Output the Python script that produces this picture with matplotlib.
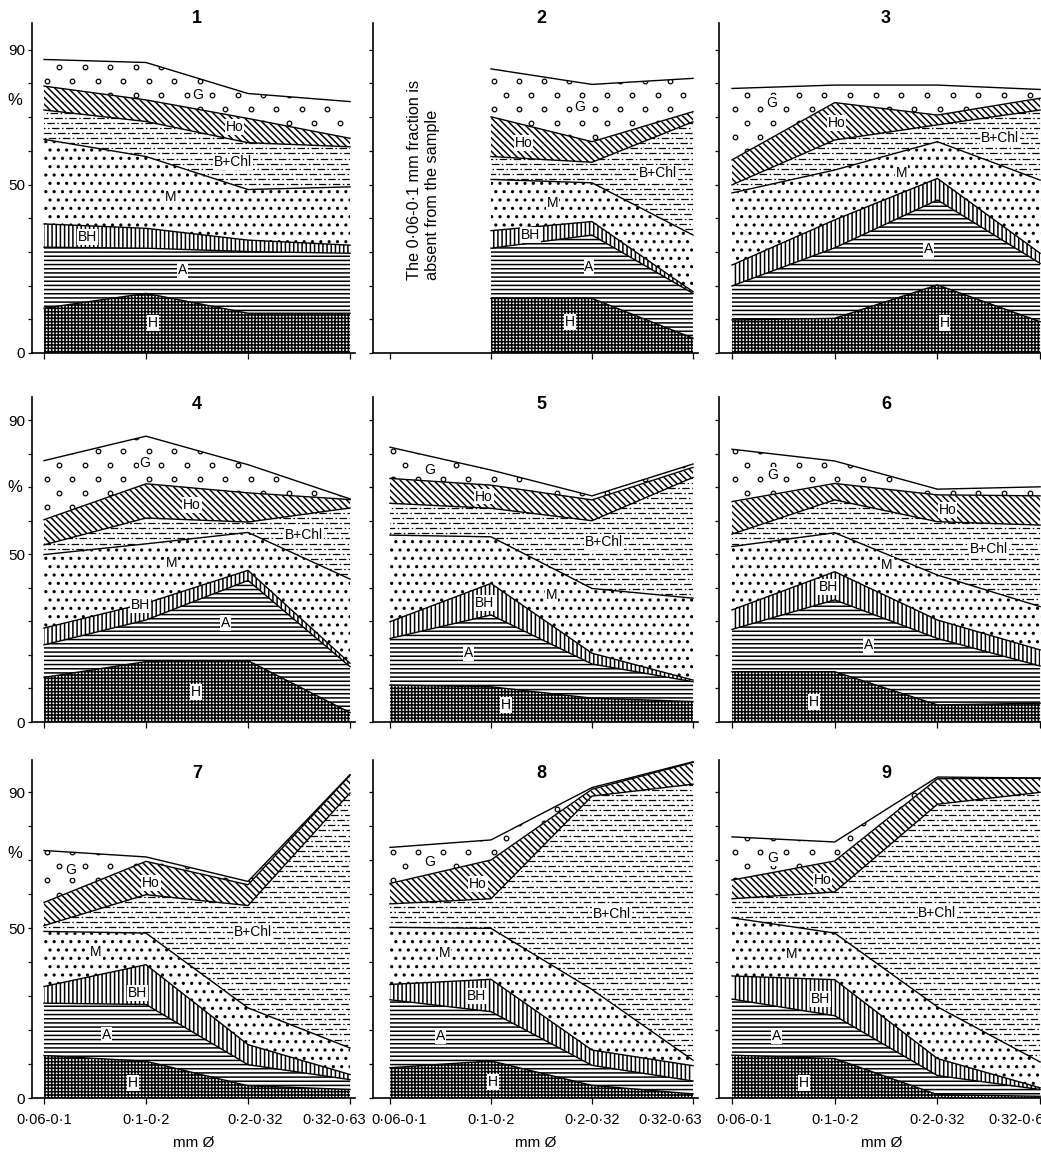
import numpy as np
import matplotlib
matplotlib.use('Agg')
import matplotlib.pyplot as plt
from matplotlib.path import Path
from matplotlib.transforms import ScaledTranslation

plt.rcParams['font.family'] = ['Liberation Sans', 'DejaVu Sans']
plt.rcParams['hatch.linewidth'] = 1.1

fractions = ['0·06-0·1', '0·1-0·2', '0·2-0·32', '0·32-0·63']
layer_names = ['H', 'A', 'BH', 'M', 'B+Chl', 'Ho', 'G']
nan = np.nan

# % of each mineral in each grain-size fraction, samples 1-9 (bottom layer first)
H = [[13.3, 17.7, 11.8, 11.8], [nan, 16.2, 16.2, 4.4], [9.8, 10.3, 20.2, 9.3],
     [13.3, 18.0, 18.3, 2.8], [11.0, 10.5, 7.1, 6.1], [15.0, 15.0, 5.1, 5.6],
     [12.5, 10.8, 3.6, 2.5], [8.9, 10.9, 3.7, 1.2], [12.6, 11.6, 1.0, 0.5]]
A = [[18.1, 13.4, 18.3, 17.8], [nan, 14.9, 18.8, 13.3], [10.1, 20.9, 25.2, 17.3],
     [9.7, 12.4, 23.9, 13.7], [13.9, 21.4, 10.2, 5.9], [12.6, 21.4, 19.8, 11.1],
     [15.4, 16.7, 6.2, 2.9], [20.0, 14.5, 5.9, 3.8], [16.5, 12.6, 5.6, 2.0]]
BH = [[6.9, 5.9, 3.4, 2.4], [nan, 5.2, 4.0, 0.5], [6.2, 8.3, 6.4, 3.0],
      [5.0, 5.0, 3.0, 1.0], [5.0, 9.4, 3.2, 0.5], [5.8, 8.4, 5.5, 4.8],
      [4.9, 11.7, 5.9, 1.5], [4.5, 9.5, 4.5, 4.5], [6.8, 10.6, 5.0, 0.5]]
M = [[25.1, 21.3, 15.0, 17.3], [nan, 15.2, 11.5, 16.8], [21.4, 14.8, 10.9, 21.7],
     [21.9, 17.7, 11.3, 25.1], [25.8, 13.9, 19.3, 24.4], [18.9, 11.6, 13.4, 12.9],
     [16.2, 9.3, 10.8, 7.8], [16.8, 15.0, 17.8, 1.6], [17.1, 13.7, 15.2, 7.6]]
BChl = [[8.7, 10.4, 13.9, 11.9], [nan, 6.8, 6.1, 33.6], [2.4, 8.9, 5.0, 20.8],
        [2.9, 7.7, 3.1, 21.2], [9.5, 8.5, 20.2, 36.0], [3.7, 9.8, 15.9, 24.3],
        [1.7, 11.3, 30.1, 75.0], [6.9, 8.7, 56.9, 81.2], [5.6, 12.1, 59.6, 79.3]]
Ho = [[7.1, 6.4, 7.2, 2.5], [nan, 11.8, 6.1, 3.0], [7.4, 11.1, 2.9, 3.5],
      [7.5, 10.2, 8.7, 2.5], [7.4, 6.9, 6.2, 3.0], [9.7, 4.9, 8.0, 8.7],
      [6.8, 9.8, 6.1, 5.2], [6.0, 11.4, 2.0, 6.4], [5.5, 9.1, 7.5, 4.2]]
G = [[7.9, 11.1, 7.4, 10.9], [nan, 14.2, 17.0, 9.9], [21.2, 5.2, 8.9, 2.6],
     [17.6, 14.2, 8.4, 0.2], [9.3, 4.5, 1.2, 1.0], [15.6, 6.7, 1.7, 2.7],
     [15.3, 1.3, 1.0, 0.2], [10.6, 5.9, 0.5, 0.2], [12.7, 5.6, 0.5, 0.0]]

# where the layer names sit in each panel (x in fraction index, y in %)
label_pos = [
    [(1.07, 8.9), (1.36, 24.6), (0.43, 34.4), (1.24, 46.3), (1.85, 56.7), (1.87, 67), (1.51, 76.6)],
    [(1.78, 9.2), (1.97, 25.5), (1.39, 35), (1.61, 44.5), (2.65, 53.4), (1.32, 62.3), (1.88, 73)],
    [(2.07, 8.9), (1.91, 30.9), None, (1.65, 53.4), (2.61, 63.8), (1.02, 68.2), (0.39, 74.2)],
    [(1.49, 9.0), (1.78, 29.5), (0.95, 34.9), (1.25, 47.4), (2.55, 55.7), (1.45, 64.7), (0.99, 77.3)],
    [(1.15, 5.1), (0.78, 20.6), (0.94, 35.5), (1.6, 37.9), (2.12, 53.7), (0.93, 67.2), (0.39, 75.1)],
    [(0.8, 6.0), (1.33, 23), (0.94, 40.2), (1.51, 46.8), (2.5, 51.6), (2.1, 63.2), (0.4, 73.6)],
    [(0.87, 4.4), (0.61, 18.5), (0.92, 30.8), (0.51, 43), (2.05, 48.9), (1.05, 63.2), (0.26, 67)],
    [(1.02, 4.7), (0.5, 18.1), (0.86, 30), (0.54, 42.7), (2.2, 54.1), (0.87, 63), (0.39, 69.4)],
    [(0.7, 4.5), (0.43, 18.2), (0.86, 29.2), (0.58, 42.5), (2.0, 54.4), (0.88, 64), (0.4, 70.6)],
]

hatches = ['+++++', '----', '||||', '..', None, '\\\\\\\\\\', None]

W, HT = 1041, 1159
fig = plt.figure(figsize=(W / 100, HT / 100), dpi=100)

# pixel layout of the scanned plate
col_spine = [32, 373, 719]
col_x0 = [44, 390, 732]
col_unit = [102, 101, 102.7]
row_base = [353, 722, 1098]
row_unit = [3.37, 3.355, 3.4]
row_top = [98, 97, 99.5]
title_y = [99.4, 94.5, 95.5]
pct_y = [75, 70, 72]
# horizontal nudges (px) of the bottom tick labels, as printed
tick_shift = [[0, 0, 7, -16], [9, 0, 0, -23], [12, 0, 0, -20]]

x = np.arange(4)


def compound(poly):
    return Path.make_compound_path(*poly.get_paths())


def dash_rows(ax, path):
    # B+Chl texture: rows of dash-dot strokes
    for j, yy in enumerate(np.arange(0.7, 100, 1.5)):
        ln, = ax.plot([-0.3, 3.3], [yy, yy], color='k', lw=0.9,
                      ls=((j * 3.7) % 10, (6, 2, 1.2, 2)), zorder=1.5)
        ln.set_clip_path(path, ax.transData)


def open_circles(ax, path):
    # G texture: scattered small rings
    gx, gy = [], []
    for j, yy in enumerate(np.arange(1, 100, 4.2)):
        xs = np.arange(-0.1, 3.2, 0.25) + (0.125 if j % 2 else 0)
        gx.extend(xs)
        gy.extend([yy] * len(xs))
    sc = ax.scatter(gx, gy, s=11, facecolors='white', edgecolors='k', linewidths=0.9, zorder=1.5)
    sc.set_clip_path(path, ax.transData)


for i in range(9):
    r, c = divmod(i, 3)
    xmin = -(col_x0[c] - col_spine[c]) / col_unit[c]
    xmax = 3.05
    left = col_spine[c] / W
    width = (xmax - xmin) * col_unit[c] / W
    bottom = (HT - row_base[r]) / HT
    height = row_top[r] * row_unit[r] / HT
    ax = fig.add_axes([left, bottom, width, height])
    ax.set_xlim(xmin, xmax)
    ax.set_ylim(0, row_top[r])

    vals = np.array([H[i], A[i], BH[i], M[i], BChl[i], Ho[i], G[i]])
    tops = np.cumsum(vals, axis=0)
    bots = np.vstack([np.zeros(4), tops[:-1]])

    for k in range(7):
        poly = ax.fill_between(x, bots[k], tops[k], facecolor='white', edgecolor='k',
                               linewidth=0, hatch=hatches[k], zorder=1)
        if layer_names[k] == 'B+Chl':
            dash_rows(ax, compound(poly))
        elif layer_names[k] == 'G':
            open_circles(ax, compound(poly))
        ax.plot(x, tops[k], color='k', lw=1.0, zorder=2)

    for k, pos in enumerate(label_pos[i]):
        if pos is None:
            continue
        ax.text(pos[0], pos[1], layer_names[k], fontsize=10, ha='center', va='center', zorder=3,
                bbox=dict(facecolor='white', edgecolor='none', pad=0.6))

    ax.text(1.5, title_y[r], str(i + 1), fontsize=13, fontweight='bold',
            ha='center', va='center', clip_on=False, zorder=4)

    for s in ['top', 'right']:
        ax.spines[s].set_visible(False)
    ax.spines['left'].set_linewidth(1.2)
    ax.spines['bottom'].set_linewidth(1.2)

    ax.set_yticks(range(0, 100, 10))
    ax.tick_params(axis='y', length=3, width=0.9, direction='out', labelsize=11, pad=2)
    ax.tick_params(axis='x', length=4, width=0.9, direction='out', labelsize=10.5, pad=7)
    ax.set_xticks(x)
    if c == 0:
        ax.set_yticklabels(['0', '', '', '', '', '50', '', '', '', '90'])
        ax.text(xmin - 0.1, pct_y[r], '%', fontsize=12, ha='right', va='center', clip_on=False)
    else:
        ax.set_yticklabels([])
    if r == 2:
        ax.set_xticklabels(fractions)
        for lab, dx in zip(ax.get_xticklabels(), tick_shift[c]):
            lab.set_transform(lab.get_transform() + ScaledTranslation(dx / 100, 0, fig.dpi_scale_trans))
        ax.set_xlabel('mm Ø', fontsize=11, labelpad=6)
    else:
        ax.set_xticklabels([])

    if i == 1:
        ax.text(0.33, 21.7, 'The 0·06-0·1 mm fraction is\nabsent from the sample',
                rotation=90, fontsize=11.7, ha='center', va='bottom', multialignment='left')

fig.savefig('out.png', dpi=100)
